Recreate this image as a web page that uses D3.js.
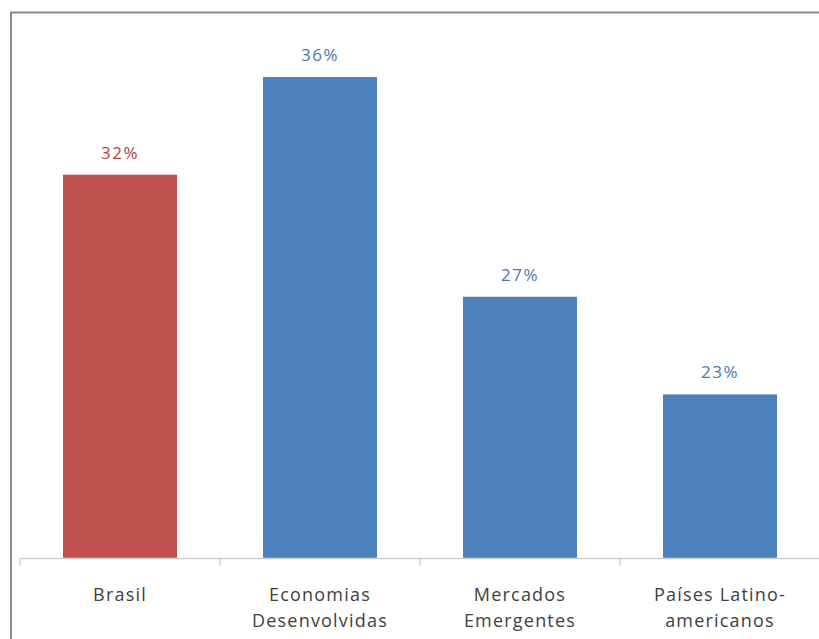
<!DOCTYPE html>
<html>
<head>
<meta charset="utf-8">
<script src="https://cdn.jsdelivr.net/npm/d3@7"></script>
<style>
  body { margin: 0; background: #fff; }
  svg { display: block; }
</style>
</head>
<body>
<div id="chart"></div>
<script>
// categories + values
var categories = ["Brasil", "Economias Desenvolvidas", "Mercados Emergentes", "Países Latino-americanos"];
var labelLines = [["Brasil"], ["Economias", "Desenvolvidas"], ["Mercados", "Emergentes"], ["Países Latino-", "americanos"]];
var values = [32, 36, 27, 23];
var barColors = ["#c0504d", "#4f81bd", "#4f81bd", "#4f81bd"];
var labelColors = ["#b5403d", "#4a76b0", "#4a76b0", "#4a76b0"];

var width = 819, height = 639;

var svg = d3.select("#chart").append("svg")
    .attr("width", width)
    .attr("height", height);

// outer frame (only top and left edges show)
svg.append("path")
    .attr("d", "M11,639 V12.5 H819")
    .attr("fill", "none")
    .attr("stroke", "#8a8a8a")
    .attr("stroke-width", 2);

var x = d3.scaleBand()
    .domain(categories)
    .range([20, 820])
    .paddingInner(0.43)
    .paddingOuter(0.215);

// value axis does not start at zero in the original
var y = d3.scaleLinear()
    .domain([16.3, 36])
    .range([558, 77]);

svg.selectAll("rect.bar")
    .data(values)
    .enter().append("rect")
    .attr("class", "bar")
    .attr("x", function(d, i) { return x(categories[i]); })
    .attr("y", function(d) { return y(d); })
    .attr("width", x.bandwidth())
    .attr("height", function(d) { return y.range()[0] - y(d); })
    .attr("fill", function(d, i) { return barColors[i]; });

svg.selectAll("text.val")
    .data(values)
    .enter().append("text")
    .attr("class", "val")
    .attr("x", function(d, i) { return x(categories[i]) + x.bandwidth() / 2; })
    .attr("y", function(d) { return y(d) - 16; })
    .attr("text-anchor", "middle")
    .attr("font-family", "'Open Sans', sans-serif")
    .attr("font-size", 17)
    .attr("letter-spacing", 1.5)
    .attr("fill", function(d, i) { return labelColors[i]; })
    .text(function(d) { return d + "%"; });

// category axis
var axis = d3.axisBottom(x).tickSize(0).tickFormat("");
var gx = svg.append("g")
    .attr("transform", "translate(0," + y.range()[0] + ")")
    .call(axis);
gx.select(".domain").attr("stroke", "#d0d0d0").attr("stroke-width", 1.5);

// tick marks sit between categories
var step = x.step();
var edges = d3.range(categories.length + 1).map(function(i) { return x.range()[0] + i * step; });
gx.selectAll("line.sep")
    .data(edges)
    .enter().append("line")
    .attr("class", "sep")
    .attr("x1", function(d) { return d; })
    .attr("x2", function(d) { return d; })
    .attr("y1", 0)
    .attr("y2", 7)
    .attr("stroke", "#d0d0d0")
    .attr("stroke-width", 1.5);

var labels = svg.selectAll("text.cat")
    .data(categories)
    .enter().append("text")
    .attr("class", "cat")
    .attr("x", function(d) { return x(d) + x.bandwidth() / 2; })
    .attr("y", 601)
    .attr("text-anchor", "middle")
    .attr("font-family", "'Open Sans', sans-serif")
    .attr("font-size", 18)
    .attr("letter-spacing", 1.2)
    .attr("fill", "#404040");

labels.selectAll("tspan")
    .data(function(d, i) { return labelLines[i]; })
    .enter().append("tspan")
    .attr("x", function() { return d3.select(this.parentNode).attr("x"); })
    .attr("dy", function(d, i) { return i === 0 ? 0 : 26; })
    .text(function(d) { return d; });
</script>
</body>
</html>
